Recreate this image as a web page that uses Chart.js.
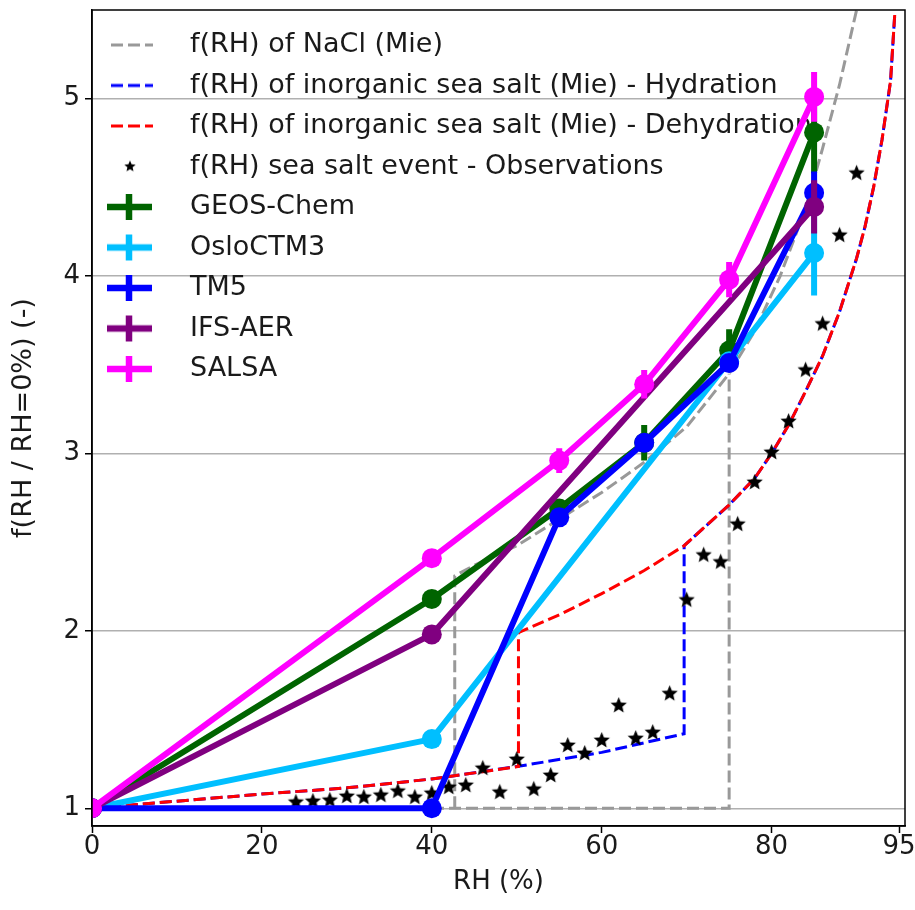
<!DOCTYPE html>
<html>
<head>
<meta charset="utf-8">
<title>f(RH) sea salt</title>
<script src="https://cdn.jsdelivr.net/npm/chart.js@4.4.1/dist/chart.umd.min.js"></script>
<style>
    html, body { margin: 0; padding: 0; background: #fff; }
    #wrap { width: 915px; height: 910px; }
</style>
</head>
<body>
<div id="wrap"><canvas id="chart" width="915" height="910"></canvas></div>
<script>
// ---------- DATA ----------
const xTicks = [0, 20, 40, 60, 80, 95];
const yTicks = [1, 2, 3, 4, 5];

// Mie f(RH) of NaCl
const naclLowerRH = [0, 75, 75];
const naclLowerF = [1.0, 1.0, 3.45];
const naclUpperRH = [42.7, 42.7, 45, 50, 55, 60, 65, 70, 75, 78, 81, 84, 86, 88, 90];
const naclUpperF = [1.0, 2.31, 2.37, 2.48, 2.63, 2.78, 2.95, 3.15, 3.45, 3.69, 4.0, 4.38, 4.72, 5.08, 5.5];

// Mie f(RH) of inorganic sea salt
const hydrationRH = [0, 5, 10, 20, 30, 40, 50, 60, 69.7, 69.7, 72, 75, 78, 80, 82, 84, 86, 88, 90, 91, 92, 93, 94, 94.5];
const hydrationF = [1.0, 1.02, 1.04, 1.08, 1.115, 1.165, 1.235, 1.315, 1.42, 2.48, 2.58, 2.71, 2.86, 3.0, 3.16, 3.35, 3.55, 3.8, 4.1, 4.28, 4.5, 4.77, 5.1, 5.48];
const dehydrationRH = [0, 5, 10, 20, 30, 40, 50.2, 50.2, 55, 60, 65, 69.7, 72, 75, 78, 80, 82, 84, 86, 88, 90, 91, 92, 93, 94, 94.5];
const dehydrationF = [1.0, 1.02, 1.04, 1.08, 1.115, 1.165, 1.235, 1.99, 2.09, 2.21, 2.34, 2.48, 2.58, 2.71, 2.86, 3.0, 3.16, 3.35, 3.55, 3.8, 4.1, 4.28, 4.5, 4.77, 5.1, 5.48];

// observations (sea salt event)
const obsRH = [24, 26, 28, 30, 32, 34, 36, 38, 40, 42, 44, 46, 48, 50, 52, 54, 56,
               58, 60, 62, 64, 66, 68, 70, 72, 74, 76, 78, 80, 82, 84, 86, 88, 90];
const obsF = [1.034, 1.039, 1.045, 1.067, 1.062, 1.073, 1.096, 1.062, 1.084, 1.118, 1.129, 1.225, 1.09, 1.275, 1.107, 1.185, 1.354,
              1.309, 1.382, 1.579, 1.393, 1.427, 1.646, 2.174, 2.427, 2.388, 2.601, 2.837, 3.006, 3.18, 3.47, 3.73, 4.23, 4.58];

// models
const modelRH = [0, 40, 55, 65, 75, 85];
const geosF = [1.0, 2.18, 2.69, 3.06, 3.58, 4.81];
const geosErr = [0, 0.02, 0.02, 0.1, 0.12, 0.23];
const osloRH = [0, 40, 75, 85];
const osloF = [1.0, 1.39, 3.52, 4.13];
const osloErr = [0, 0.02, 0.03, 0.24];
const tm5F = [1.0, 1.0, 2.64, 3.06, 3.51, 4.47];
const tm5Err = [0, 0, 0.02, 0.04, 0.04, 0.12];
const ifsRH = [0, 40, 85];
const ifsF = [1.0, 1.98, 4.39];
const ifsErr = [0, 0.02, 0.15];
const salsaF = [1.0, 2.41, 2.96, 3.39, 3.98, 5.01];
const salsaErr = [0, 0.05, 0.07, 0.08, 0.1, 0.14];

// ---------- HELPERS ----------
const FONT = "'DejaVu Sans', 'Liberation Sans', sans-serif";
const TEXT = "#1a1a1a";
const DASH = [12, 5];

const pts = (xs, ys) => xs.map((x, i) => ({ x, y: ys[i] }));
const errPts = (xs, ys, es) => xs.flatMap((x, i) =>
    es[i] > 0 ? [{ x, y: ys[i] - es[i] }, { x, y: ys[i] + es[i] }, { x, y: null }] : []);

function makeIcon(draw) {
    const c = document.createElement("canvas");
    c.width = 72;
    c.height = 32;
    const g = c.getContext("2d");
    draw(g);
    return c;
}
function starPath(g, cx, cy, r) {
    g.beginPath();
    for (let i = 0; i < 10; i++) {
        const rad = i % 2 ? r * 0.45 : r;
        const a = -Math.PI / 2 + i * Math.PI / 5;
        g.lineTo(cx + rad * Math.cos(a), cy + rad * Math.sin(a));
    }
    g.closePath();
    g.fillStyle = "#000";
    g.fill();
}
function starCanvas(r) {
    const c = document.createElement("canvas");
    c.width = c.height = Math.ceil(2 * r + 2);
    starPath(c.getContext("2d"), c.width / 2, c.height / 2, r);
    return c;
}
const dashIcon = color => makeIcon(g => {
    g.strokeStyle = color;
    g.lineWidth = 3;
    g.setLineDash(DASH);
    g.beginPath();
    g.moveTo(6, 16);
    g.lineTo(48, 16);
    g.stroke();
});
const errIcon = color => makeIcon(g => {
    g.strokeStyle = color;
    g.lineWidth = 6.5;
    g.beginPath();
    g.moveTo(2, 16);
    g.lineTo(47, 16);
    g.moveTo(24, 3);
    g.lineTo(24, 29);
    g.stroke();
});

const legendItems = [
    { text: "f(RH) of NaCl (Mie)", icon: dashIcon("#999999") },
    { text: "f(RH) of inorganic sea salt (Mie) - Hydration", icon: dashIcon("#0000ff") },
    { text: "f(RH) of inorganic sea salt (Mie) - Dehydration", icon: dashIcon("#ff0000") },
    { text: "f(RH) sea salt event - Observations", icon: makeIcon(g => starPath(g, 25, 16, 6)) },
    { text: "GEOS-Chem", icon: errIcon("#006400") },
    { text: "OsloCTM3", icon: errIcon("#00bfff") },
    { text: "TM5", icon: errIcon("#0000ff") },
    { text: "IFS-AER", icon: errIcon("#800080") },
    { text: "SALSA", icon: errIcon("#ff00ff") }
];

function modelSet(label, color, xs, ys) {
    return {
        label, data: pts(xs, ys),
        borderColor: color, backgroundColor: color,
        borderWidth: 6, borderJoinStyle: "round", borderCapStyle: "round",
        pointRadius: 10, pointHoverRadius: 10, pointBorderWidth: 0,
        pointBackgroundColor: color, clip: 0
    };
}
function errSet(color, xs, ys, es) {
    return {
        label: "", data: errPts(xs, ys, es),
        borderColor: color, borderWidth: 6, borderCapStyle: "butt",
        pointRadius: 0, spanGaps: false, clip: 0
    };
}
function mieSet(color, xs, ys) {
    return {
        label: "", data: pts(xs, ys),
        borderColor: color, borderWidth: 3, borderDash: DASH,
        pointRadius: 0, spanGaps: false, clip: 0
    };
}

// first dataset is drawn on top
const datasets = [
    modelSet("SALSA", "#ff00ff", modelRH, salsaF),
    errSet("#ff00ff", modelRH, salsaF, salsaErr),
    modelSet("IFS-AER", "#800080", ifsRH, ifsF),
    errSet("#800080", ifsRH, ifsF, ifsErr),
    modelSet("TM5", "#0000ff", modelRH, tm5F),
    errSet("#0000ff", modelRH, tm5F, tm5Err),
    modelSet("OsloCTM3", "#00bfff", osloRH, osloF),
    errSet("#00bfff", osloRH, osloF, osloErr),
    modelSet("GEOS-Chem", "#006400", modelRH, geosF),
    errSet("#006400", modelRH, geosF, geosErr),
    {
        label: "obs", data: pts(obsRH, obsF), showLine: false,
        pointStyle: starCanvas(8.5), pointRadius: 8, pointHoverRadius: 8, clip: 0
    },
    mieSet("#ff0000", dehydrationRH, dehydrationF),
    mieSet("#0000ff", hydrationRH, hydrationF),
    mieSet("#999999", naclUpperRH, naclUpperF),
    mieSet("#999999", naclLowerRH, naclLowerF)
];

// full axes frame, like the matplotlib spines
const framePlugin = {
    id: "frame",
    afterDraw(chart) {
        const { ctx, chartArea: a } = chart;
        ctx.save();
        ctx.strokeStyle = "#000";
        ctx.lineWidth = 1.5;
        ctx.strokeRect(a.left, a.top, a.right - a.left, a.bottom - a.top);
        ctx.restore();
    }
};

// ---------- CHART ----------
new Chart(document.getElementById("chart"), {
    type: "line",
    data: { datasets },
    plugins: [framePlugin],
    options: {
        responsive: false,
        animation: false,
        events: [],
        devicePixelRatio: 1,
        layout: { padding: { left: 0, top: 5, right: 8, bottom: 0 } },
        elements: { line: { tension: 0 } },
        plugins: {
            tooltip: { enabled: false },
            legend: {
                position: "chartArea",
                align: "start",
                title: { display: true, text: " ", font: { size: 10 }, padding: { top: 0, bottom: 6 } },
                labels: {
                    usePointStyle: true,
                    pointStyleWidth: 71,
                    padding: 13.5,
                    color: TEXT,
                    font: { family: FONT, size: 27 },
                    generateLabels: () => legendItems.map(it => ({
                        text: it.text,
                        pointStyle: it.icon,
                        fontColor: TEXT,
                        fillStyle: "rgba(0,0,0,0)",
                        strokeStyle: "rgba(0,0,0,0)",
                        lineWidth: 0,
                        hidden: false
                    }))
                }
            }
        },
        scales: {
            x: {
                type: "linear",
                min: 0,
                max: 95.7,
                afterBuildTicks: s => { s.ticks = xTicks.map(v => ({ value: v })); },
                afterFit: s => { s.height = 84; s.paddingLeft = 0; s.paddingRight = 0; },
                ticks: { color: TEXT, font: { family: FONT, size: 26 }, padding: -1, maxRotation: 0 },
                grid: { drawOnChartArea: false, tickLength: 7, tickColor: "#000", tickWidth: 1.5 },
                border: { display: true, color: "#000", width: 1.5 },
                title: { display: true, text: "RH (%)", color: TEXT, font: { family: FONT, size: 26 }, padding: { top: 0, bottom: 12 } }
            },
            y: {
                type: "linear",
                min: 0.9,
                max: 5.5,
                afterBuildTicks: s => { s.ticks = yTicks.map(v => ({ value: v })); },
                afterFit: s => { s.width = 92; s.paddingTop = 0; s.paddingBottom = 0; },
                ticks: { color: TEXT, font: { family: FONT, size: 26 }, padding: 5 },
                grid: { color: "#b0b0b0", lineWidth: 1.5, tickLength: 7, tickColor: "#000", tickWidth: 1.5 },
                border: { display: true, color: "#000", width: 1.5 },
                title: { display: true, text: "f(RH / RH=0%) (-)", color: TEXT, font: { family: FONT, size: 27 }, padding: { top: 8, bottom: 0 } }
            }
        }
    }
});
</script>
</body>
</html>
